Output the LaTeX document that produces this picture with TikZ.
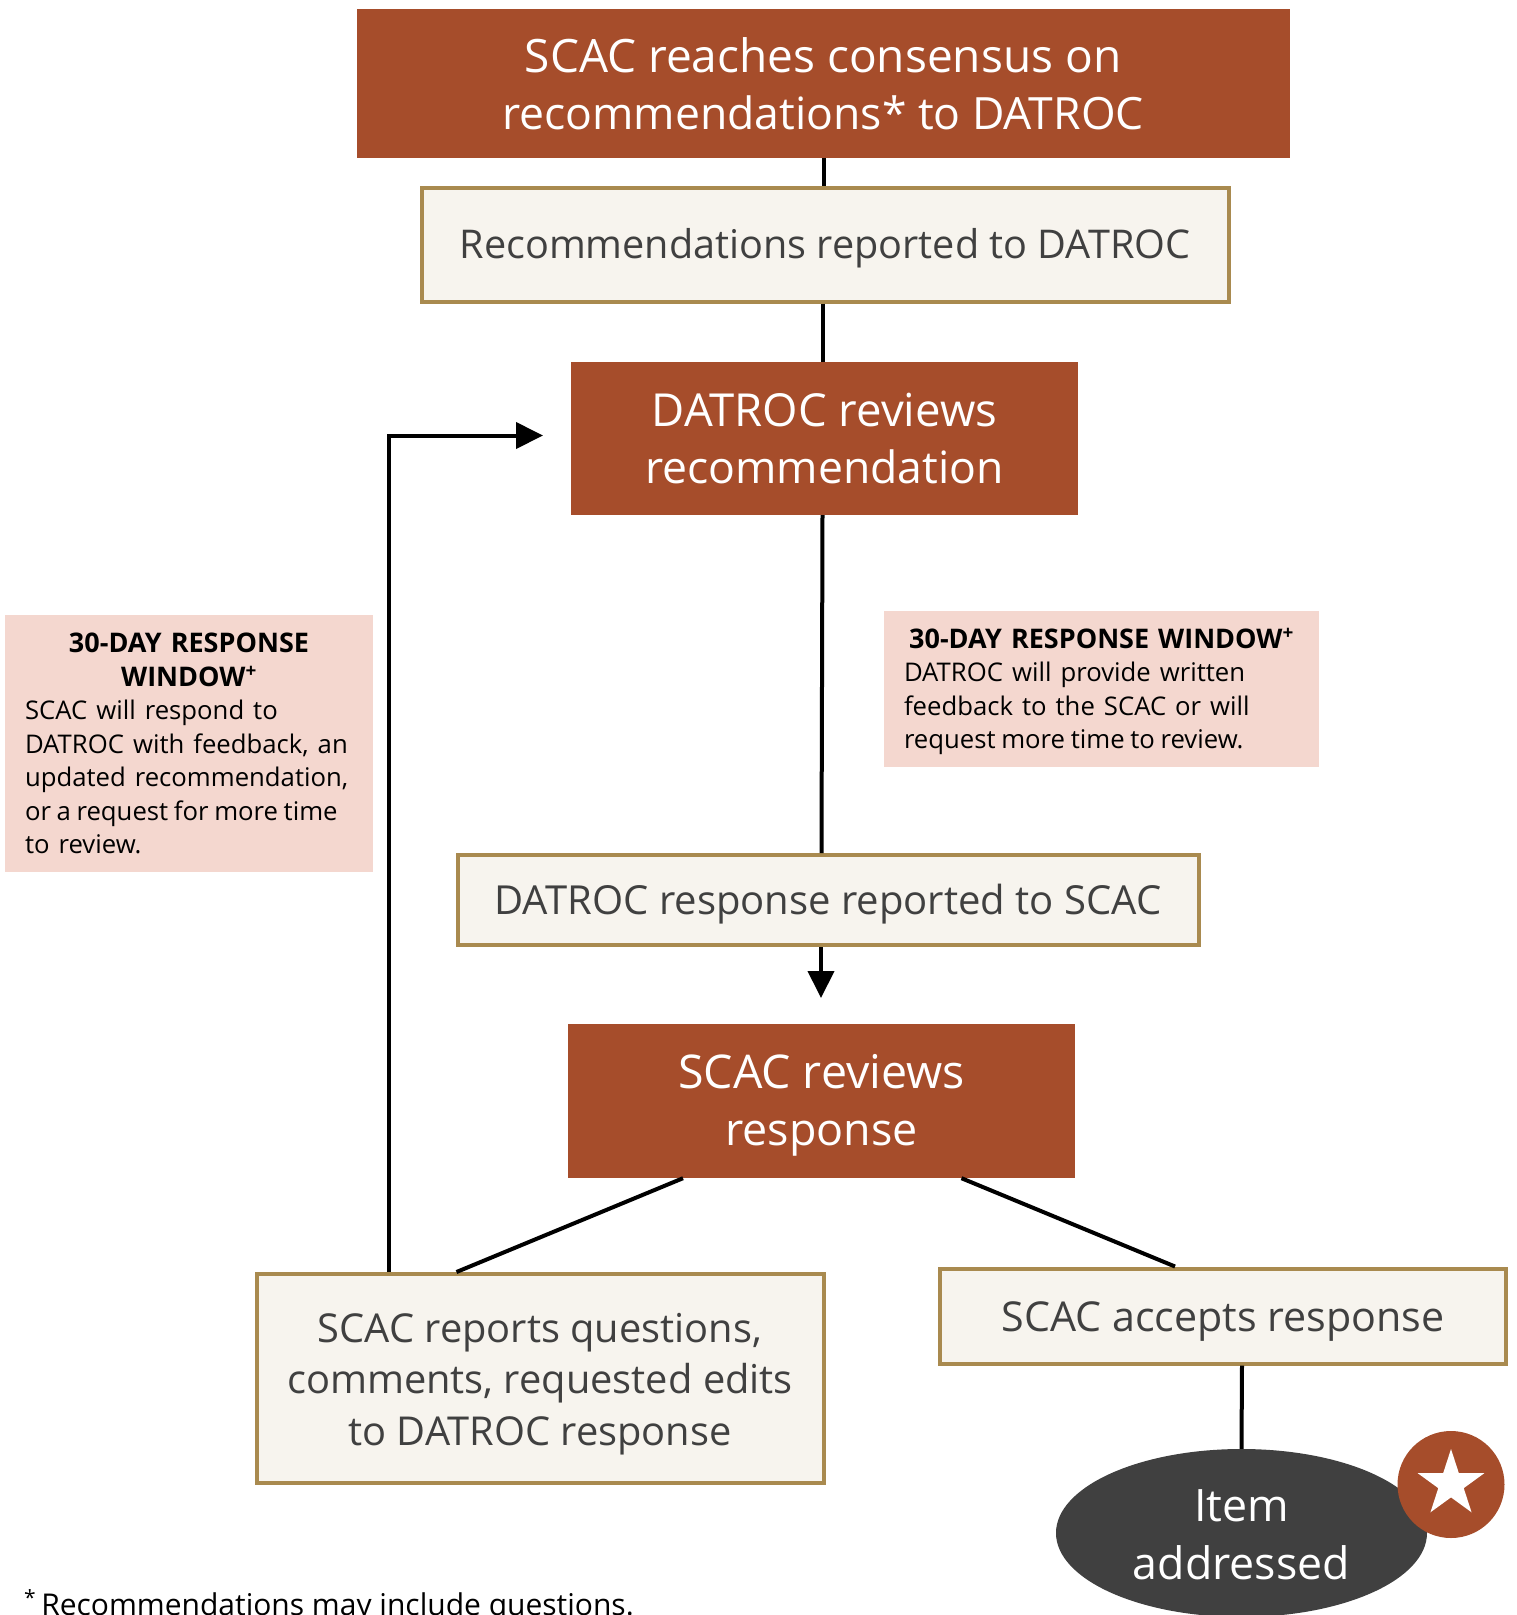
\documentclass[tikz,border=0pt]{standalone}
\usepackage{fontspec}
\setmainfont{Open Sans}
\usetikzlibrary{shapes.geometric,arrows.meta}
\definecolor{rust}{HTML}{A64D2B}
\definecolor{cream}{HTML}{F7F4EE}
\definecolor{gold}{HTML}{A98A4F}
\definecolor{pinkbg}{HTML}{F4D7CF}
\definecolor{slate}{HTML}{404040}
\newcommand{\lowered}[2]{\raisebox{-#1pt}[\height][\depth]{\begin{tabular}{@{}c@{}}#2\end{tabular}}}
\newcommand{\bodyfont}{\fontsize{25.7}{33.5}\selectfont}
\newcommand{\smallerline}{\fontsize{44.5}{57.5}\selectfont}
\newcommand{\tightline}[1]{\mbox{\spaceskip=.22em #1}}
\tikzset{
 rustbox/.style={rectangle,fill=rust,text=white,align=center,inner sep=0pt},
 creambox/.style={rectangle,fill=cream,draw=gold,line width=4pt,text=slate,align=center,inner sep=0pt},
 pinkbox/.style={rectangle,fill=pinkbg,text=black,inner xsep=20pt,inner ysep=0pt,font=\fontsize{27}{33.5}\selectfont},
 link/.style={draw=black,line width=4pt},
 arrowlink/.style={link,-{Triangle[length=27pt,width=26pt]}}
}
\begin{document}
\begin{tikzpicture}[x=1pt,y=-1pt]
\useasboundingbox (0,0) rectangle (1517,1615);
\fill[white] (0,0) rectangle (1517,1615);
\node[rustbox,minimum width=933pt,minimum height=148.5pt,font=\fontsize{46}{57.5}\selectfont] (b1) at (823,83.5) {SCAC reaches consensus on\\\smallerline recommendations* to DATROC};
\node[creambox,minimum width=807pt,minimum height=114pt,font=\fontsize{39.6}{50}\selectfont] (b2) at (825,244.5) {\lowered{4}{Recommendations reported to DATROC}};
\node[rustbox,minimum width=507pt,minimum height=153pt,font=\fontsize{45.5}{57.5}\selectfont] (b3) at (824.5,438.5) {DATROC reviews\\\smallerline recommendation};
\node[pinkbox,text width=328pt,minimum height=257pt] (p1) at (189,743.5) {\centering\bfseries 30-DAY RESPONSE\\WINDOW\textsuperscript{+}\par\raggedright\mdseries\bodyfont SCAC will respond to\\DATROC with feedback, an\\updated recommendation,\\\tightline{or a request for more time}\\to review.};
\node[pinkbox,text width=395pt,minimum height=156pt] (p2) at (1101.5,689) {\centering\bfseries\rule{0pt}{25pt}30-DAY RESPONSE WINDOW\textsuperscript{+}\par\raggedright\mdseries\bodyfont DATROC will provide written\\feedback to the SCAC or will\\\tightline{request more time to review.}};
\node[creambox,minimum width=741pt,minimum height=90pt,font=\fontsize{40}{50}\selectfont] (b4) at (828,900) {\lowered{4}{DATROC response reported to SCAC}};
\node[rustbox,minimum width=507pt,minimum height=154pt,font=\fontsize{46.5}{57.5}\selectfont] (b5) at (821.5,1101) {\lowered{4.5}{SCAC reviews\\\fontsize{44.8}{57.5}\selectfont response}};
\node[creambox,minimum width=567pt,minimum height=209pt,font=\fontsize{39.8}{51.5}\selectfont] (b6) at (540,1378.5) {\lowered{5}{SCAC reports questions,\\comments, requested edits\\to DATROC response}};
\node[creambox,minimum width=566pt,minimum height=95pt,font=\fontsize{41.2}{50}\selectfont] (b7) at (1223,1316) {\lowered{5}{SCAC accepts response}};
\node[ellipse,fill=slate,text=white,align=center,inner sep=0pt,minimum width=371pt,minimum height=168pt,font=\fontsize{44.7}{57.5}\selectfont] (e1) at (1241.5,1533) {\lowered{6}{Item\\addressed}};
\node[circle,fill=rust,inner sep=0pt,minimum size=107pt] (c1) at (1451,1484.5) {};
\node[star,star points=5,star point ratio=2.618,fill=white,inner sep=0pt,minimum size=70pt] (s1) at (1451,1484) {};
\node[anchor=base west,inner sep=0pt,font=\fontsize{30}{33}\selectfont] (fn) at (24,1615) {\textsuperscript{*}\,Recommendations may include questions.};
\coordinate (tip1) at (543,435.5);
\coordinate (tip2) at (821,998);
\draw[link] ([xshift=1pt]b1.south) -- ([xshift=-1pt]b2.north);
\draw[link] ([xshift=-2pt]b2.south) -- ([xshift=-1.5pt]b3.north);
\draw[link] ([xshift=-2pt]b3.south) -- ([xshift=-6.5pt]b4.north);
\draw[arrowlink] ([xshift=-7pt]b4.south) -- (tip2);
\draw[arrowlink] ([xshift=-151pt]b6.north) |- (tip1);
\draw[link] ([xshift=-138.5pt]b5.south) -- ([xshift=-83.5pt]b6.north);
\draw[link] ([xshift=140pt]b5.south) -- ([xshift=-48pt]b7.north);
\draw[link] ([xshift=19pt]b7.south) -- (e1.north);
\end{tikzpicture}
\end{document}
